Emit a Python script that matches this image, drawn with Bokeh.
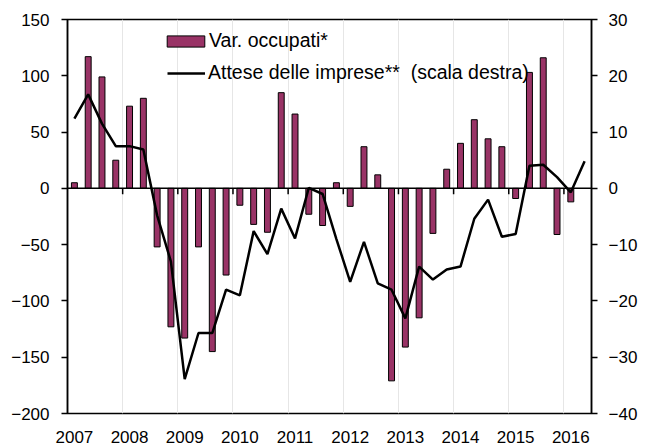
from bokeh.plotting import figure
from bokeh.models import Range1d, LinearAxis, FixedTicker, Span, Legend, LegendItem
from bokeh.embed import file_html
from bokeh.resources import INLINE

# ---- data ----
years = [str(y) for y in range(2007, 2017)]
# quarterly change in employment (thousands), 2007Q1 .. 2016Q1
occupati = [5, 117, 99, 25, 73, 80, -52, -123, -133, -52, -145, -77, -15, -32, -39,
            85, 66, -23, -33, 5, -16, 37, 12, -171, -141, -115, -40, 17, 40, 61, 44,
            37, -9, 103, 116, -41, -12]
# firms' expectations (right scale), 2007Q1 .. 2016Q2
attese = [12.4, 16.7, 11.5, 7.5, 7.5, 6.9, -4.8, -13.0, -33.9, -25.7, -25.7, -18.0,
          -19.0, -7.6, -11.7, -3.6, -8.9, 0.1, -1.0, -9.0, -16.6, -9.5, -16.9, -18.0,
          -23.1, -13.9, -16.2, -14.4, -13.9, -5.4, -2.0, -8.6, -8.1, 4.0, 4.2, 2.0,
          -0.7, 4.8]
left_ticks = [-200, -150, -100, -50, 0, 50, 100, 150]
right_ticks = [-40, -30, -20, -10, 0, 10, 20, 30]

FONT = "Liberation Sans"
BAR = "#993366"

xq = list(range(len(occupati)))
xl = list(range(len(attese)))
label_pos = [4 * k for k in range(len(years))]
boundaries = [4 * k - 0.5 for k in range(1, len(years))]

p = figure(width=640, height=446, output_backend="svg", toolbar_location=None,
           x_range=Range1d(-0.5, 37.5), y_range=Range1d(-200, 150),
           min_border_left=67, min_border_right=43, min_border_top=19,
           min_border_bottom=33, background_fill_color="white",
           border_fill_color="white")
p.extra_y_ranges = {"right": Range1d(-40, 30)}

p.outline_line_color = "black"
p.outline_line_width = 1.5

# grid
p.ygrid.visible = False
p.xgrid.ticker = FixedTicker(ticks=boundaries)
p.xgrid.grid_line_color = "#e6e6e6"
p.xgrid.grid_line_width = 1

# bottom axis
xa = p.xaxis[0]
xa.ticker = FixedTicker(ticks=label_pos)
xa.major_label_overrides = {pos: lab for pos, lab in zip(label_pos, years)}
xa.major_tick_out = 0
xa.major_tick_in = 0
xa.minor_tick_out = 0
xa.minor_tick_in = 0
xa.axis_line_color = None
xa.major_label_standoff = 17
xa.major_label_text_font = FONT
xa.major_label_text_font_size = "17px"
xa.major_label_text_color = "black"

# left axis
ya = p.yaxis[0]
ya.ticker = FixedTicker(ticks=left_ticks)
ya.major_tick_out = 6
ya.major_tick_in = 0
ya.minor_tick_out = 0
ya.minor_tick_in = 0
ya.axis_line_width = 1.5
ya.major_tick_line_width = 1.5
ya.major_label_standoff = 12
ya.major_label_text_font = FONT
ya.major_label_text_font_size = "17px"
ya.major_label_text_color = "black"

# right axis
ra = LinearAxis(y_range_name="right", ticker=FixedTicker(ticks=right_ticks))
ra.major_tick_out = 6
ra.major_tick_in = 0
ra.minor_tick_out = 0
ra.minor_tick_in = 0
ra.axis_line_width = 1.5
ra.major_tick_line_width = 1.5
ra.major_label_standoff = 11
ra.major_label_text_font = FONT
ra.major_label_text_font_size = "17px"
ra.major_label_text_color = "black"
p.add_layout(ra, "right")

# bars
bars = p.vbar(x=xq, top=occupati, width=0.43, fill_color=BAR,
              line_color="black", line_width=1)

# zero line and its ticks
p.add_layout(Span(location=0, dimension="width", line_color="black", line_width=1.5))
p.segment(x0=boundaries, y0=[0] * len(boundaries), x1=boundaries,
          y1=[-5.3] * len(boundaries), line_color="black", line_width=1.5)

# expectations line
ln = p.line(x=xl, y=attese, y_range_name="right", line_color="black",
            line_width=2.5)

# legends
common = dict(padding=0, margin=0, border_line_color=None,
              background_fill_alpha=0, label_text_font=FONT,
              label_text_font_size="19.5px", label_text_color="black",
              glyph_height=14, label_height=14)
leg1 = Legend(items=[LegendItem(label="Var. occupati*", renderers=[bars])],
              location=(95, 361), glyph_width=47, label_standoff=0, **common)
leg2 = Legend(items=[LegendItem(label="Attese delle imprese**  (scala destra)",
                                renderers=[ln])],
              location=(100, 329), glyph_width=38, label_standoff=3, **common)
p.add_layout(leg1)
p.add_layout(leg2)

open("out.html", "w").write(file_html(p, INLINE))
